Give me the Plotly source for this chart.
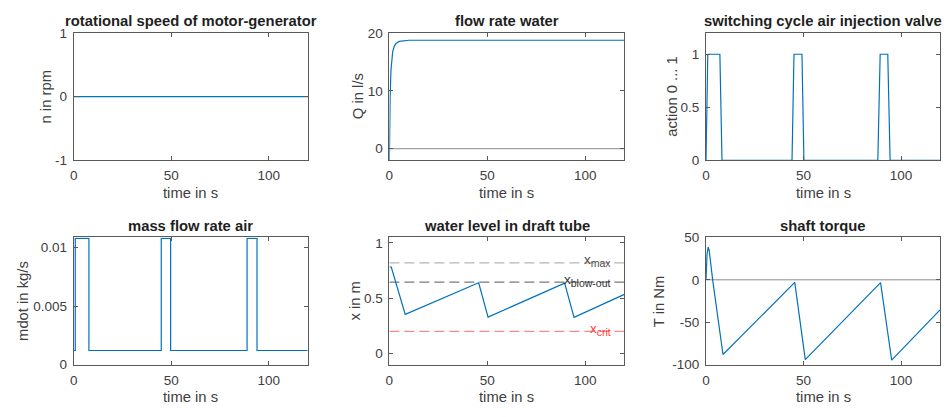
import plotly.graph_objects as go

# ---------------- data ----------------
x_range = [0, 120]
x_ticks = [0, 50, 100]

t_n = [0, 120]
n_rpm = [0, 0]

t_Q = [0, 0.1, 0.4, 0.8, 1.2, 1.7, 2.5, 3.4, 5, 7.5, 10, 120]
Q_ls = [-2, 2, 9, 13.5, 15.5, 16.8, 17.7, 18.2, 18.55, 18.7, 18.75, 18.75]

t_valve = [0, 0.9, 7.1, 8.2, 44.1, 45.1, 49.2, 50.2, 88.1, 89.3, 93.2, 94.4, 120]
valve = [0, 1, 1, 0, 0, 1, 1, 0, 0, 1, 1, 0, 0]

t_mdot = [0, 0.8, 0.8, 7.8, 7.8, 44.9, 44.9, 49.7, 49.7, 88.9, 88.9, 94.0, 94.0, 120]
mdot = [0.00121, 0.00121, 0.0108, 0.0108, 0.00121, 0.00121, 0.0108, 0.0108,
        0.00121, 0.00121, 0.0108, 0.0108, 0.00121, 0.00121]

t_x = [0, 1, 8.1, 45.6, 50.4, 89.5, 94.3, 120]
x_level = [0.785, 0.78, 0.354, 0.64, 0.33, 0.637, 0.327, 0.535]

x_max = 0.82
x_blow = 0.645
x_crit = 0.2

t_T = [0, 0.5, 1.1, 1.6, 3.4, 8.7, 45.5, 50.9, 89.5, 95.2, 120]
T_Nm = [0, 30, 38.5, 35, 0, -88, -3, -94, -3.4, -94.7, -35.5]

titles = ["rotational speed of motor-generator", "flow rate water",
          "switching cycle air injection valve", "mass flow rate air",
          "water level in draft tube", "shaft torque"]
ylabels = ["n in rpm", "Q in l/s", "action 0 ... 1", "mdot in kg/s", "x in m", "T in Nm"]
xlabel = "time in s"

y_ranges = [[-1, 1], [-2, 20], [0, 1.2], [0, 0.01088], [-0.1, 1.05], [-100, 50]]
y_tickvals = [[-1, 0, 1], [0, 10, 20], [0, 0.5, 1], [0, 0.005, 0.01], [0, 0.5, 1], [-100, -50, 0, 50]]
y_ticktext = [["-1", "0", "1"], ["0", "10", "20"], ["0", "0.5", "1"], ["0", "0.005", "0.01"],
              ["0", "0.5", "1"], ["-100", "-50", "0", "50"]]

# ---------------- layout geometry ----------------
W, H = 948, 417
col_px = [(70, 305), (387, 623), (705, 940)]
row_px = [(27, 159), (239, 371)]
ylabel_x = [42, 355, 670, 19, 353, 658]

BLUE = "#0072BD"
FONT = "Liberation Sans, Arial, Helvetica, sans-serif"
AX = "#5a5a5a"
TXT = "#404040"

fig = go.Figure()

series = [(t_n, n_rpm), (t_Q, Q_ls), (t_valve, valve), (t_mdot, mdot), (t_x, x_level), (t_T, T_Nm)]

annotations = []
for i in range(6):
    r, c = divmod(i, 3)
    x0, x1 = col_px[c]
    top, bot = row_px[r]
    xd = [x0 / W, x1 / W]
    yd = [1 - bot / H, 1 - top / H]
    k = "" if i == 0 else str(i + 1)
    xa, ya = "x" + k, "y" + k
    common = dict(showgrid=False, zeroline=False, showline=True, linecolor=AX, linewidth=1,
                  mirror="ticks", ticks="inside", ticklen=4, tickcolor=AX, tickwidth=1,
                  tickfont=dict(family=FONT, size=13.5, color=TXT))
    fig.layout["xaxis" + k] = dict(domain=xd, anchor=ya, range=x_range, tickvals=x_ticks,
                                   ticklabelstandoff=3, **common)
    fig.layout["yaxis" + k] = dict(domain=yd, anchor=xa, range=y_ranges[i], tickvals=y_tickvals[i],
                                   ticktext=y_ticktext[i], ticklabelstandoff=3, **common)

    # reference lines (under data)
    if i in (1, 5):
        fig.add_trace(go.Scatter(x=x_range, y=[0, 0], mode="lines", line=dict(color="#8c8c8c", width=1),
                                 xaxis=xa, yaxis=ya, hoverinfo="skip"))
    if i == 4:
        for val, col in [(x_max, "#b5b5b5"), (x_blow, "#7a7a7a"), (x_crit, "#f48a8a")]:
            fig.add_trace(go.Scatter(x=x_range, y=[val, val], mode="lines",
                                     line=dict(color=col, width=1.2, dash="10px,5px"),
                                     xaxis=xa, yaxis=ya, hoverinfo="skip"))
    tx, ty = series[i]
    fig.add_trace(go.Scatter(x=tx, y=ty, mode="lines", line=dict(color=BLUE, width=1.2),
                             xaxis=xa, yaxis=ya))

    cx = (x0 + x1) / 2 / W
    annotations.append(dict(text="<b>" + titles[i] + "</b>", x=cx, y=1 - (top - 12) / H,
                            xref="paper", yref="paper", showarrow=False, xanchor="center", yanchor="middle",
                            font=dict(family=FONT, size=14.8, color="#1f1f1f")))
    annotations.append(dict(text=xlabel, x=cx, y=1 - (bot + 34) / H, xref="paper", yref="paper",
                            showarrow=False, xanchor="center", yanchor="middle",
                            font=dict(family=FONT, size=14.8, color=TXT)))
    annotations.append(dict(text=ylabels[i], x=ylabel_x[i] / W, y=1 - (top + bot) / 2 / H,
                            xref="paper", yref="paper", showarrow=False, textangle=-90,
                            xanchor="center", yanchor="middle",
                            font=dict(family=FONT, size=14.8, color=TXT)))

# level labels in draft-tube plot
for val, txt, col in [(x_max, "max", "#4d4d4d"), (x_blow, "blow-out", "#333333"),
                      (x_crit, "crit", "#ff3b3b")]:
    annotations.append(dict(text="x<sub><span style='font-size:10.5px'>" + txt + "</span></sub>",
                            x=114, y=val, xref="x5", yref="y5", showarrow=False,
                            xanchor="right", yanchor="middle", yshift=2,
                            font=dict(family=FONT, size=13.5, color=col)))

fig.update_layout(width=W, height=H, margin=dict(l=0, r=0, t=0, b=0), showlegend=False,
                  paper_bgcolor="white", plot_bgcolor="white", annotations=annotations)

fig.write_html("out.html")
